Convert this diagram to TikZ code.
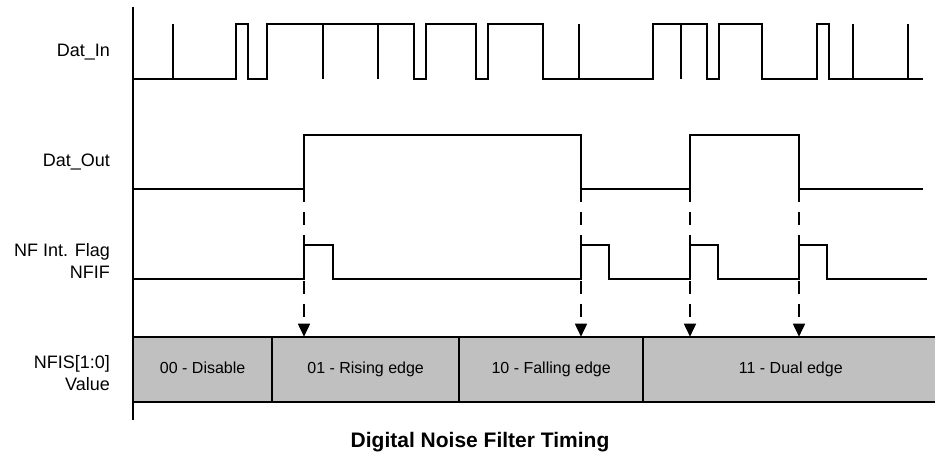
\documentclass[tikz,border=0pt]{standalone}
\usepackage{fontspec}
\setmainfont{Liberation Sans}
\usepackage{xcolor}
\definecolor{nfisgray}{RGB}{192,192,192}
\usepackage{tikz}
\usetikzlibrary{arrows.meta,positioning}

\begin{document}
\begin{tikzpicture}[
    x=1pt, y=-1pt,
    wave/.style={line width=1.7pt, black, line join=miter},
    axisline/.style={line width=1.9pt, black},
    sig/.style={anchor=east, align=right, inner sep=0pt,
                font=\fontsize{18}{22}\selectfont},
    seg/.style={rectangle, draw, fill=nfisgray, line width=1.9pt,
                minimum height=65pt, inner sep=0pt, outer sep=0pt,
                text height=11.5pt, text depth=3.4pt,
                font=\fontsize{16}{19}\selectfont},
    edgearr/.style={line width=1.7pt, dash pattern=on 13pt off 10pt,
                    -{Triangle[width=12pt,length=13pt]}},
    ttl/.style={font=\fontsize{21}{25}\selectfont\bfseries},
  ]
    \useasboundingbox (0,0) rectangle (935,457);

    \node[sig] (datin)  at (110,52)  {Dat\_In};
    \node[sig] (datout) at (110,162) {Dat\_Out};
    \node[sig] (nfif)   at (110,261) {NF Int. Flag\\NFIF};
    \node[sig] (nfis)   at (110,373) {NFIS[1:0]\\Value};

    \node[seg, anchor=north west, minimum width=139.3pt] (disable) at (133,336.7) {00 - Disable};
    \node[seg, right=0pt of disable, minimum width=186.7pt] (rising)  {01 - Rising edge};
    \node[seg, right=0pt of rising,  minimum width=184.3pt] (falling) {10 - Falling edge};
    \node[seg, right=0pt of falling, minimum width=295pt]   (dual)    {11 - Dual edge};

    \draw[axisline] (133,7) -- (133,420);

    \draw[wave] (133,79) -- (236,79) -- (236,24) -- (248,24) -- (248,79)
      -- (267,79) -- (267,24) -- (414,24) -- (414,79) -- (426,79) -- (426,24)
      -- (476,24) -- (476,79) -- (488,79) -- (488,24) -- (543,24) -- (543,79)
      -- (653,79) -- (653,24) -- (707,24) -- (707,79) -- (719,79) -- (719,24)
      -- (762,24) -- (762,79) -- (817,79) -- (817,24) -- (829,24) -- (829,79)
      -- (923,79);
    \foreach \gx in {173,323,378,579,681,853,908}
      \draw[wave] (\gx,79) -- (\gx,24);

    \draw[wave] (133,189) -- (304,189) -- (304,135) -- (581,135) -- (581,189)
      -- (690,189) -- (690,135) -- (799,135) -- (799,189) -- (923,189);

    \draw[wave] (133,279) -- (304,279) -- (304,245) -- (333,245) -- (333,279)
      -- (581,279) -- (581,245) -- (609,245) -- (609,279)
      -- (690,279) -- (690,245) -- (718,245) -- (718,279)
      -- (799,279) -- (799,245) -- (827,245) -- (827,279) -- (927,279);

    \coordinate (rise1) at (304,189);
    \coordinate (fall1) at (581,189);
    \coordinate (rise2) at (690,189);
    \coordinate (fall2) at (799,189);

    \draw[edgearr] (rise1) -- (rise1 |- rising.north);
    \draw[edgearr] (fall1) -- (fall1 |- falling.north);
    \draw[edgearr] (rise2) -- (rise2 |- dual.north);
    \draw[edgearr] (fall2) -- (fall2 |- dual.north);

    \node[ttl] (title) at (480,442) {Digital Noise Filter Timing};
  \end{tikzpicture}
\end{document}
